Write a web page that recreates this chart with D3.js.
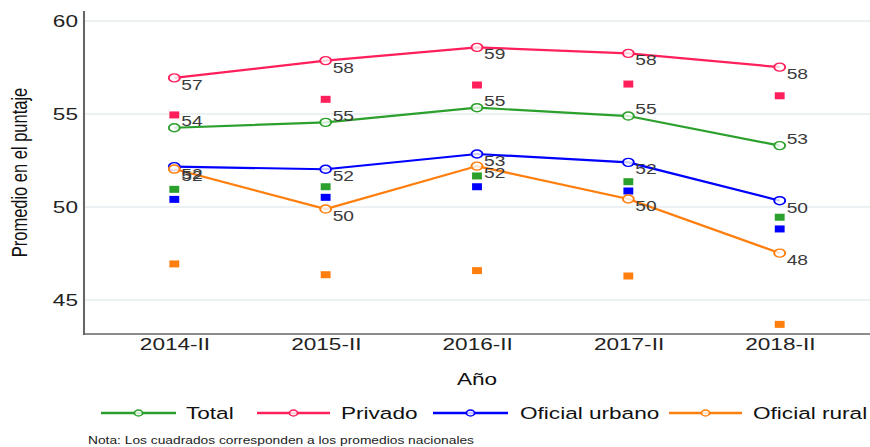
<!DOCTYPE html>
<html>
<head>
<meta charset="utf-8">
<script src="https://cdn.jsdelivr.net/npm/d3@7"></script>
<style>
html,body{margin:0;padding:0;background:#fff;}
svg{display:block;}
text{font-family:"Liberation Sans",Arial,sans-serif;}
</style>
</head>
<body>
<svg id="chart" width="870" height="447"></svg>
<script>
const years = ["2014-II","2015-II","2016-II","2017-II","2018-II"];
const seriesNames = ["Total","Privado","Oficial urbano","Oficial rural"];
const seriesColors = ["#2ca02c","#ff1f5b","#0000ff","#ff7f0e"];
const total   = [54.26, 54.55, 55.34, 54.89, 53.30];
const privado = [56.94, 57.87, 58.58, 58.26, 57.52];
const urbano  = [52.17, 52.03, 52.85, 52.40, 50.34];
const rural   = [52.04, 49.89, 52.20, 50.43, 47.52];
const natTotal   = [50.95, 51.09, 51.67, 51.36, 49.45];
const natPrivado = [54.95, 55.79, 56.56, 56.61, 55.98];
const natUrbano  = [50.41, 50.52, 51.09, 50.86, 48.82];
const natRural   = [46.94, 46.36, 46.58, 46.29, 43.69];
const yTicks = [45, 50, 55, 60];
const xTitle = "Año";
const yTitle = "Promedio en el puntaje";
const note = "Nota: Los cuadrados corresponden a los promedios nacionales";

const seriesVals = [total, privado, urbano, rural];
const natVals = [natTotal, natPrivado, natUrbano, natRural];

// horizontally stretched rendering (reference is stretched)
const W = 870, H = 447, S = 1.37;
const VW = W / S;
const sx = v => v / S;
const svg = d3.select("#chart")
  .attr("viewBox", `0 0 ${VW} ${H}`)
  .attr("preserveAspectRatio", "none");

const pLeft = sx(84), pRight = sx(870), pTop = 11, pBottom = 334;
const x = d3.scalePoint().domain(years).range([sx(174.3), sx(779.7)]);
const y = d3.scaleLinear().domain([60, 45]).range([21, 300]);

// grid
svg.append("g").selectAll("line").data(yTicks).join("line")
  .attr("x1", pLeft).attr("x2", pRight)
  .attr("y1", d => y(d)).attr("y2", d => y(d))
  .attr("stroke", "#e6edf1").attr("stroke-width", 1.5);

// axes
const yAxis = svg.append("g").attr("transform", `translate(${pLeft},0)`)
  .call(d3.axisLeft(y).tickValues(yTicks).tickSize(0).tickPadding(sx(6)));
yAxis.select(".domain").remove();
yAxis.selectAll("text").attr("font-size", 16.5).attr("fill", "#222")
  .attr("font-family", "Liberation Sans, Arial, sans-serif");
svg.append("line").attr("x1", pLeft).attr("x2", pLeft).attr("y1", pTop).attr("y2", pBottom + 1)
  .attr("stroke", "#666").attr("stroke-width", 1.5);

const xAxis = svg.append("g").attr("transform", `translate(0,${pBottom})`)
  .call(d3.axisBottom(x).tickSize(0).tickPadding(4));
xAxis.select(".domain").remove();
xAxis.selectAll("text").attr("font-size", 16.5).attr("fill", "#222")
  .attr("font-family", "Liberation Sans, Arial, sans-serif");
svg.append("line").attr("x1", pLeft).attr("x2", pRight).attr("y1", pBottom).attr("y2", pBottom)
  .attr("stroke", "#666").attr("stroke-width", 1.5);

// titles
svg.append("text").attr("x", sx(477)).attr("y", 385).attr("text-anchor", "middle")
  .attr("font-size", 16.5).attr("fill", "#111").text(xTitle);
svg.append("text").attr("transform", `translate(${sx(26.5)},${(pTop + pBottom) / 2}) rotate(-90)`)
  .attr("text-anchor", "middle").attr("font-size", 16.5).attr("fill", "#111").text(yTitle);

// national squares
natVals.forEach((vals, i) => {
  svg.append("g").selectAll("rect").data(vals).join("rect")
    .attr("x", (d, j) => x(years[j]) - 3.6).attr("y", d => y(d) - 3.5)
    .attr("width", 7.2).attr("height", 7)
    .attr("fill", seriesColors[i]);
});

// lines + circles
const line = d3.line().x((d, j) => x(years[j])).y(d => y(d));
seriesVals.forEach((vals, i) => {
  const g = svg.append("g");
  g.append("path").datum(vals).attr("d", line).attr("fill", "none")
    .attr("stroke", seriesColors[i]).attr("stroke-width", 2.2);
  g.selectAll("circle").data(vals).join("circle")
    .attr("cx", (d, j) => x(years[j])).attr("cy", d => y(d)).attr("r", 4)
    .attr("fill", "#fff").attr("fill-opacity", 0.8)
    .attr("stroke", seriesColors[i]).attr("stroke-width", 1.4);
});

// value labels
seriesVals.forEach((vals, i) => {
  const above = i === 0;
  svg.append("g").selectAll("text").data(vals).join("text")
    .attr("x", (d, j) => x(years[j]) + sx(7))
    .attr("y", d => y(d) + (above ? -1.8 : 12))
    .attr("font-size", 14).attr("fill", "#3a3a3a")
    .text(d => Math.round(d));
});

// legend
const legendItems = [
  {x1: 101, x2: 176, tx: 186},
  {x1: 257, x2: 330, tx: 341},
  {x1: 433, x2: 508, tx: 520},
  {x1: 669, x2: 742, tx: 753}
];
const ly = 413;
const lg = svg.append("g");
legendItems.forEach((it, i) => {
  lg.append("line").attr("x1", sx(it.x1)).attr("x2", sx(it.x2)).attr("y1", ly).attr("y2", ly)
    .attr("stroke", seriesColors[i]).attr("stroke-width", 2.6);
  lg.append("circle").attr("cx", sx((it.x1 + it.x2) / 2)).attr("cy", ly).attr("r", 3)
    .attr("fill", "#fff").attr("fill-opacity", 0.8).attr("stroke", seriesColors[i]).attr("stroke-width", 1.3);
  lg.append("text").attr("x", sx(it.tx)).attr("y", ly + 6).attr("font-size", 16.5)
    .attr("fill", "#111").text(seriesNames[i]);
});

// note
svg.append("text").attr("x", sx(88)).attr("y", 444).attr("font-size", 10.5)
  .attr("textLength", sx(386)).attr("lengthAdjust", "spacingAndGlyphs")
  .attr("fill", "#222").text(note);
</script>
</body>
</html>
